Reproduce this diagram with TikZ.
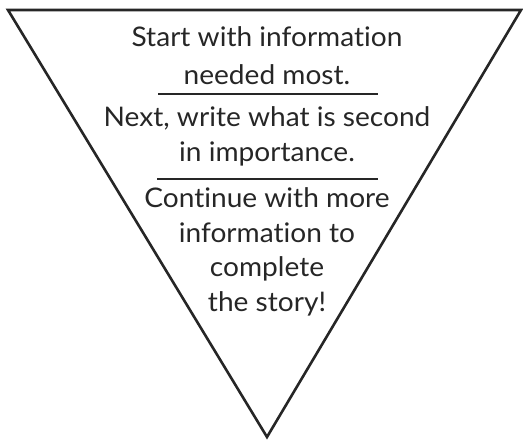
\documentclass[tikz,border=0pt]{standalone}
\usepackage{fontspec}
\setmainfont{Lato}[Ligatures={NoCommon}, FakeStretch=1.04]
\begin{document}
\begin{tikzpicture}[x=1pt,y=-1pt,
  txt/.style={font=\fontsize{27}{33}\selectfont, text=black!85, inner sep=0pt, anchor=base},
  rule/.style={line width=2.6pt, draw=black!85},
  edge/.style={line width=2.6pt, draw=black!85, line join=miter}]
\useasboundingbox (0,0) rectangle (523,441);
\coordinate (tl) at (8,10);
\coordinate (tr) at (521,10);
\coordinate (ap) at (267,437);
\draw[edge] (tl) -- (tr) -- (ap) -- cycle;
\node[txt] (l1) at (267,47) {Start with information};
\node[txt] (l2) at (267,85) {needed most.};
\coordinate (s1a) at (158,94);
\coordinate (s1b) at (378,94);
\draw[rule] (s1a) -- (s1b);
\node[txt] (l3) at (267,127) {Next, write what is second};
\node[txt] (l4) at (267,162) {in importance.};
\coordinate (s2a) at (157,179);
\coordinate (s2b) at (378,179);
\draw[rule] (s2a) -- (s2b);
\node[txt] (l5) at (267,208) {Continue with more};
\node[txt] (l6) at (267,243) {information to};
\node[txt] (l7) at (267,277) {complete};
\node[txt] (l8) at (267,312) {the story!};
\end{tikzpicture}
\end{document}
